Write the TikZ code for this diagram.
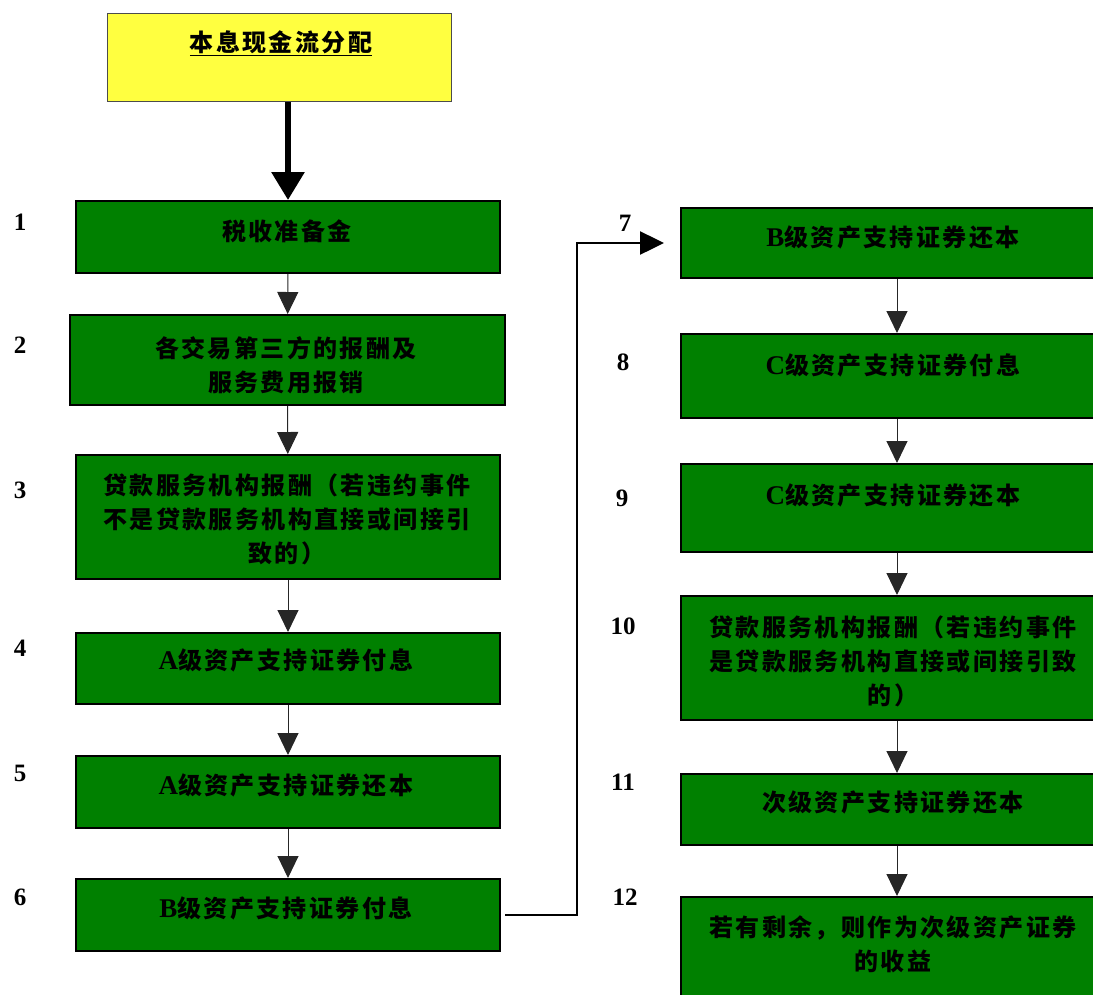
\documentclass[tikz,border=0pt]{standalone}
\usepackage{fontspec}
\setmainfont{Liberation Serif}
\newfontfamily\cjk[LetterSpace=10]{Noto Sans CJK SC}
\newfontfamily\lat{Liberation Serif}
\newcommand{\gradeletter}[1]{{\lat\fontsize{27}{34}\selectfont #1}}
\usetikzlibrary{arrows.meta}
\definecolor{boxgreen}{RGB}{0,128,0}
\definecolor{titleyellow}{RGB}{255,255,64}
\tikzset{
  step box/.style={draw=black,line width=2pt,fill=boxgreen,anchor=north west},
  step text/.style={align=center,inner sep=0pt,font=\cjk\bfseries\fontsize{24}{34}\selectfont},
  step num/.style={inner sep=0pt,font=\bfseries\fontsize{25}{25}\selectfont},
  flow/.style={draw=black!85,line width=1pt,-{Triangle[width=21pt,length=22pt]}}
}
\begin{document}
\begin{tikzpicture}[x=1pt,y=-1pt]
  \useasboundingbox (0,0) rectangle (1093,994);

  % heading
  \node[draw=black!70,line width=1pt,fill=titleyellow,anchor=north west,minimum width=344pt,minimum height=88pt] (title) at (107,13) {};
  \node[step text] (titleText) at (281,43) {\underline{本息现金流分配}};

  % left column
  \node[step box,minimum width=424pt,minimum height=72pt] (taxReserve) at (75,200) {};
  \node[step box,minimum width=435pt,minimum height=90pt] (thirdPartyFees) at (69,314) {};
  \node[step box,minimum width=424pt,minimum height=124pt] (servicerFee) at (75,454) {};
  \node[step box,minimum width=424pt,minimum height=71pt] (classAInterest) at (75,632) {};
  \node[step box,minimum width=424pt,minimum height=72pt] (classAPrincipal) at (75,755) {};
  \node[step box,minimum width=424pt,minimum height=72pt] (classBInterest) at (75,878) {};

  \node[step text] at (287,231) {税收准备金};
  \node[step text] at (286,365) {各交易第三方的报酬及\\服务费用报销};
  \node[step text] at (287,519) {贷款服务机构报酬（若违约事件\\不是贷款服务机构直接或间接引\\致的）};
  \node[step text] at (286,660) {\gradeletter{A}级资产支持证券付息};
  \node[step text] at (286,785) {\gradeletter{A}级资产支持证券还本};
  \node[step text] at (286,908) {\gradeletter{B}级资产支持证券付息};

  % right column
  \node[step box,minimum width=432pt,minimum height=70pt] (classBPrincipal) at (680,207) {};
  \node[step box,minimum width=432pt,minimum height=84pt] (classCInterest) at (680,333) {};
  \node[step box,minimum width=432pt,minimum height=88pt] (classCPrincipal) at (680,463) {};
  \node[step box,minimum width=432pt,minimum height=124pt] (servicerFeeDefault) at (680,595) {};
  \node[step box,minimum width=432pt,minimum height=71pt] (subPrincipal) at (680,773) {};
  \node[step box,minimum width=432pt,minimum height=120pt] (residual) at (680,896) {};

  \node[step text] at (893,237) {\gradeletter{B}级资产支持证券还本};
  \node[step text] at (893,365) {\gradeletter{C}级资产支持证券付息};
  \node[step text] at (893,495) {\gradeletter{C}级资产支持证券还本};
  \node[step text] at (893,661) {贷款服务机构报酬（若违约事件\\是贷款服务机构直接或间接引致\\的）};
  \node[step text] at (893,802) {次级资产支持证券还本};
  \node[step text] at (893,944) {若有剩余，则作为次级资产证券\\的收益};

  % step numbers
  \node[step num] (n1) at (20,222) {1};
  \node[step num] (n2) at (20,345) {2};
  \node[step num] (n3) at (20,490) {3};
  \node[step num] (n4) at (20,648) {4};
  \node[step num] (n5) at (20,773) {5};
  \node[step num] (n6) at (20,897) {6};
  \node[step num] (n7) at (625,223) {7};
  \node[step num] (n8) at (623,362) {8};
  \node[step num] (n9) at (622,498) {9};
  \node[step num] (n10) at (623,626) {10};
  \node[step num] (n11) at (623,782) {11};
  \node[step num] (n12) at (625,897) {12};

  % connectors
  \draw[line width=6pt,-{Triangle[width=32pt,length=28pt]}] (title.south -| taxReserve.north) -- (taxReserve.north);
  \draw[flow] (taxReserve) -- (thirdPartyFees);
  \draw[flow] (thirdPartyFees) -- (servicerFee);
  \draw[flow] (servicerFee) -- (classAInterest);
  \draw[flow] (classAInterest) -- (classAPrincipal);
  \draw[flow] (classAPrincipal) -- (classBInterest);
  \draw[line width=2.5pt,-{Triangle[width=23pt,length=24pt]}] ([xshift=4pt]classBInterest.east) -- ++(72,0) |- ([xshift=-16pt]classBPrincipal.west);
  \draw[flow] (classBPrincipal) -- (classCInterest);
  \draw[flow] (classCInterest) -- (classCPrincipal);
  \draw[flow] (classCPrincipal) -- (servicerFeeDefault);
  \draw[flow] (servicerFeeDefault) -- (subPrincipal);
  \draw[flow] (subPrincipal) -- (residual);
\end{tikzpicture}
\end{document}
